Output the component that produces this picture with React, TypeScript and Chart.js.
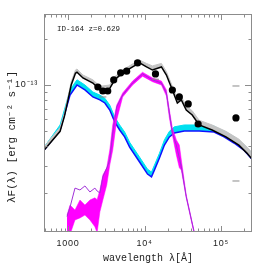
import React, { useEffect, useRef } from 'react';
import { Chart, registerables } from 'chart.js';
Chart.register(...registerables);

const X_MIN = 485;
const X_MAX = 254000;
const Y_MIN = 1.11e-14;
const Y_MAX = 2.89e-13;

// total model (black) and its uncertainty band (grey)
const totalLam = [488, 584, 787, 900, 1000, 1100, 1250, 1310, 1566, 2113, 2609, 3512, 4077, 5176, 6983, 8615, 10620, 12700, 16630, 19320, 23110, 26860, 30270, 35100, 42000, 51800, 76400, 116000, 171000, 218000, 254000];
const totalFlux = [3.78e-14, 4.2e-14, 5.0e-14, 6.3e-14, 8.0e-14, 1.0e-13, 1.19e-13, 1.21e-13, 1.11e-13, 1.03e-13, 9.3e-14, 9.5e-14, 1.08e-13, 1.2e-13, 1.31e-13, 1.39e-13, 1.31e-13, 1.25e-13, 1.31e-13, 1.16e-13, 9.28e-14, 7.64e-14, 8.0e-14, 6.88e-14, 6.38e-14, 5.5e-14, 5.1e-14, 4.6e-14, 4.07e-14, 3.61e-14, 3.3e-14];
const totalHi = [3.95e-14, 4.45e-14, 5.3e-14, 6.6e-14, 8.4e-14, 1.05e-13, 1.25e-13, 1.27e-13, 1.16e-13, 1.08e-13, 9.8e-14, 1.0e-13, 1.13e-13, 1.25e-13, 1.37e-13, 1.45e-13, 1.38e-13, 1.33e-13, 1.38e-13, 1.22e-13, 9.8e-14, 8.1e-14, 8.4e-14, 7.3e-14, 6.8e-14, 5.9e-14, 5.5e-14, 5.0e-14, 4.45e-14, 3.95e-14, 3.65e-14];

// AGN component (blue) and band (cyan)
const agnLam = [488, 787, 1062, 1309, 1663, 2113, 2609, 3027, 3512, 4077, 4730, 5495, 6383, 8615, 10940, 12330, 13490, 15660, 18190, 21130, 24540, 33060, 51800, 81100, 109400, 147500, 199000, 254000];
const agnFlux = [3.78e-14, 5.1e-14, 8.6e-14, 1.0e-13, 9.28e-14, 8.36e-14, 8.0e-14, 7.64e-14, 6.88e-14, 5.75e-14, 5.1e-14, 4.6e-14, 3.95e-14, 3.16e-14, 2.64e-14, 2.53e-14, 2.81e-14, 3.36e-14, 4.07e-14, 4.6e-14, 4.88e-14, 5.03e-14, 5.03e-14, 4.95e-14, 4.6e-14, 4.2e-14, 3.78e-14, 3.3e-14];
const agnHi = [3.95e-14, 5.5e-14, 9.3e-14, 1.08e-13, 1.0e-13, 9.0e-14, 8.6e-14, 8.2e-14, 7.4e-14, 6.2e-14, 5.5e-14, 4.95e-14, 4.25e-14, 3.4e-14, 2.84e-14, 2.72e-14, 3.02e-14, 3.6e-14, 4.4e-14, 5.0e-14, 5.35e-14, 5.5e-14, 5.5e-14, 5.4e-14, 5.0e-14, 4.6e-14, 4.1e-14, 3.6e-14];

// host galaxy component (purple line) and band (magenta)
const hostLam = [970, 1062, 1233, 1432, 1663, 1932, 2244, 2400, 2609, 2851, 3206, 3512, 3838, 4327, 5176, 6983, 9420, 12700, 16630, 19320, 21130, 23110, 26060, 28500, 30270, 35100, 44570, 50000];
const hostFlux = [1.4e-14, 1.61e-14, 2.14e-14, 2.08e-14, 2.21e-14, 2.02e-14, 2.14e-14, 2.05e-14, 1.99e-14, 2.53e-14, 2.89e-14, 3.26e-14, 4.88e-14, 7.2e-14, 8.61e-14, 1.03e-13, 1.18e-13, 1.08e-13, 1.03e-13, 8.87e-14, 6.58e-14, 4.88e-14, 4.07e-14, 3.36e-14, 2.94e-14, 1.88e-14, 1.11e-14, 8.5e-15];
const hostHi = [1.43e-14, 1.66e-14, 1.54e-14, 1.79e-14, 1.66e-14, 1.79e-14, 1.85e-14, 1.8e-14, 2.08e-14, 2.6e-14, 2.9e-14, 3.78e-14, 5.5e-14, 7.4e-14, 8.87e-14, 1.06e-13, 1.21e-13, 1.11e-13, 1.06e-13, 9.28e-14, 6.88e-14, 5.26e-14, 4.4e-14, 4.07e-14, 3.26e-14, 1.93e-14, 1.11e-14, 8.5e-15];
const hostLo = [1.0e-14, 1.07e-14, 1.33e-14, 1.37e-14, 1.43e-14, 1.33e-14, 1.2e-14, 1.1e-14, 1.5e-14, 1.79e-14, 2.24e-14, 3.02e-14, 3.78e-14, 5.93e-14, 8.36e-14, 1.0e-13, 1.14e-13, 1.05e-13, 1.0e-13, 8.48e-14, 6.1e-14, 4.74e-14, 3.51e-14, 2.9e-14, 2.8e-14, 1.85e-14, 1.08e-14, 8.3e-15];

// photometry
const obsLam = [2455, 2851, 3304, 3955, 4875, 5834, 8110, 13900, 23110, 28500, 37250, 50200, 156700];
const obsFlux = [9.7e-14, 9.14e-14, 9.14e-14, 1.08e-13, 1.2e-13, 1.23e-13, 1.39e-13, 1.18e-13, 9.28e-14, 8.36e-14, 7.53e-14, 5.58e-14, 6.11e-14];

// model photometry / error marks
const markLam = [2455, 2851, 3955, 4875, 5834, 8110, 13900, 156700, 156700];
const markFlux = [9.85e-14, 8.36e-14, 1.05e-13, 1.18e-13, 1.21e-13, 1.43e-13, 1.09e-13, 9.85e-14, 2.38e-14];

// ticks
const xTicks = [500, 600, 700, 800, 900, 1000, 2000, 3000, 4000, 5000, 6000, 7000, 8000, 9000, 10000, 20000, 30000, 40000, 50000, 60000, 70000, 80000, 90000, 100000, 200000];
const xMajor = [1000, 10000, 100000];
const xMajorLabels = ['1000', '10\u2074', '10\u2075'];
const yTicks = [2e-14, 3e-14, 4e-14, 5e-14, 6e-14, 7e-14, 8e-14, 9e-14, 1e-13, 2e-13];
const yMajor = [1e-13];
const yMajorLabels = ['10\u207B\u00B9\u00B3'];

const xTitle = 'wavelength \u03BB[\u00C5]';
const yTitle = '\u03BBF(\u03BB) [erg cm\u207B\u00B2 s\u207B\u00B9]';
const annotation = 'ID-164 z=0.629';

const pts = (xs: number[], ys: number[]) => xs.map((x, i) => ({ x, y: ys[i] }));

const framePlugin = {
  id: 'frame',
  afterDraw(chart: any) {
    const { ctx, chartArea: a, scales } = chart;
    const xs = scales.x;
    const ys = scales.y;
    ctx.save();
    ctx.strokeStyle = '#8c8c8c';
    ctx.lineWidth = 1;
    ctx.strokeRect(a.left + 0.5, a.top + 0.5, a.right - a.left - 1, a.bottom - a.top - 1);
    ctx.beginPath();
    for (const v of xTicks) {
      const px = Math.round(xs.getPixelForValue(v)) + 0.5;
      const len = xMajor.includes(v) ? 6 : 3.5;
      ctx.moveTo(px, a.bottom);
      ctx.lineTo(px, a.bottom - len);
      ctx.moveTo(px, a.top);
      ctx.lineTo(px, a.top + len);
    }
    for (const v of yTicks) {
      const py = Math.round(ys.getPixelForValue(v)) + 0.5;
      const len = yMajor.includes(v) ? 7 : 3.5;
      ctx.moveTo(a.left, py);
      ctx.lineTo(a.left + len, py);
      ctx.moveTo(a.right, py);
      ctx.lineTo(a.right - len, py);
    }
    ctx.stroke();

    ctx.fillStyle = '#222';
    ctx.font = '9px "Liberation Sans", Arial, sans-serif';
    ctx.textAlign = 'center';
    ctx.textBaseline = 'middle';
    try { (ctx as any).letterSpacing = '0.8px'; } catch (e) {}
    xMajor.forEach((v, i) => {
      ctx.fillText(xMajorLabels[i], xs.getPixelForValue(v), 244);
    });
    ctx.textAlign = 'right';
    yMajor.forEach((v, i) => {
      ctx.fillText(yMajorLabels[i], 38, ys.getPixelForValue(v));
    });
    try { (ctx as any).letterSpacing = '0px'; } catch (e) {}

    ctx.font = '10px "Liberation Mono", "DejaVu Sans Mono", monospace';
    ctx.textAlign = 'center';
    ctx.fillText(xTitle, 148, 258);

    ctx.save();
    ctx.translate(12, 137);
    ctx.rotate(-Math.PI / 2);
    ctx.font = '11px "Liberation Mono", "DejaVu Sans Mono", monospace';
    ctx.fillText(yTitle, 0, 0);
    ctx.restore();

    ctx.font = '7.5px "Liberation Mono", "DejaVu Sans Mono", monospace';
    ctx.textAlign = 'left';
    ctx.fillText(annotation, 57, 29);
    ctx.restore();
  },
};

export default function App() {
  const ref = useRef<HTMLCanvasElement>(null);
  useEffect(() => {
    const canvas = ref.current!;
    const line = { pointRadius: 0, tension: 0, showLine: true };
    const chart = new Chart(canvas, {
      type: 'line',
      data: {
        datasets: [
          { data: pts(obsLam, obsFlux), showLine: false, pointRadius: 3.6, pointBackgroundColor: '#000', pointBorderColor: '#000', borderWidth: 0, order: 0 },
          { data: pts(markLam, markFlux), showLine: false, pointStyle: 'line', pointRadius: 3.5, pointBorderColor: '#8a8a8a', pointBorderWidth: 1, order: 1 },
          { ...line, data: pts(hostLam, hostFlux), borderColor: '#a030d8', borderWidth: 1, fill: false, order: 2 },
          { ...line, data: pts(hostLam, hostHi), borderColor: '#ff00ff', borderWidth: 0.5, backgroundColor: '#ff00ff', fill: 4, order: 3 },
          { ...line, data: pts(hostLam, hostLo), borderColor: '#ff00ff', borderWidth: 0.5, fill: false, order: 4 },
          { ...line, data: pts(totalLam, totalFlux), borderColor: '#000', borderWidth: 1.5, fill: false, order: 5 },
          { ...line, data: pts(totalLam, totalHi), borderColor: '#c4c4c4', borderWidth: 1, backgroundColor: '#c4c4c4', fill: 5, order: 6 },
          { ...line, data: pts(agnLam, agnFlux), borderColor: '#1010ff', borderWidth: 1.5, fill: false, order: 7 },
          { ...line, data: pts(agnLam, agnHi), borderColor: '#00e0f0', borderWidth: 1, backgroundColor: '#00e0f0', fill: 7, order: 8 },
        ] as any,
      },
      options: {
        responsive: false,
        devicePixelRatio: 1,
        animation: false,
        parsing: true,
        layout: { padding: { left: 44, top: 14, right: 14, bottom: 35 } },
        plugins: { legend: { display: false }, tooltip: { enabled: false } },
        scales: {
          x: { type: 'logarithmic', min: X_MIN, max: X_MAX, display: false },
          y: { type: 'logarithmic', min: Y_MIN, max: Y_MAX, display: false },
        },
      } as any,
      plugins: [framePlugin],
    });
    return () => chart.destroy();
  }, []);
  return (
    <div style={{ position: 'absolute', left: 0, top: 0, width: 266, height: 267, background: '#fff' }}>
      <canvas ref={ref} width={266} height={267} style={{ width: 266, height: 267, display: 'block' }} />
    </div>
  );
}
